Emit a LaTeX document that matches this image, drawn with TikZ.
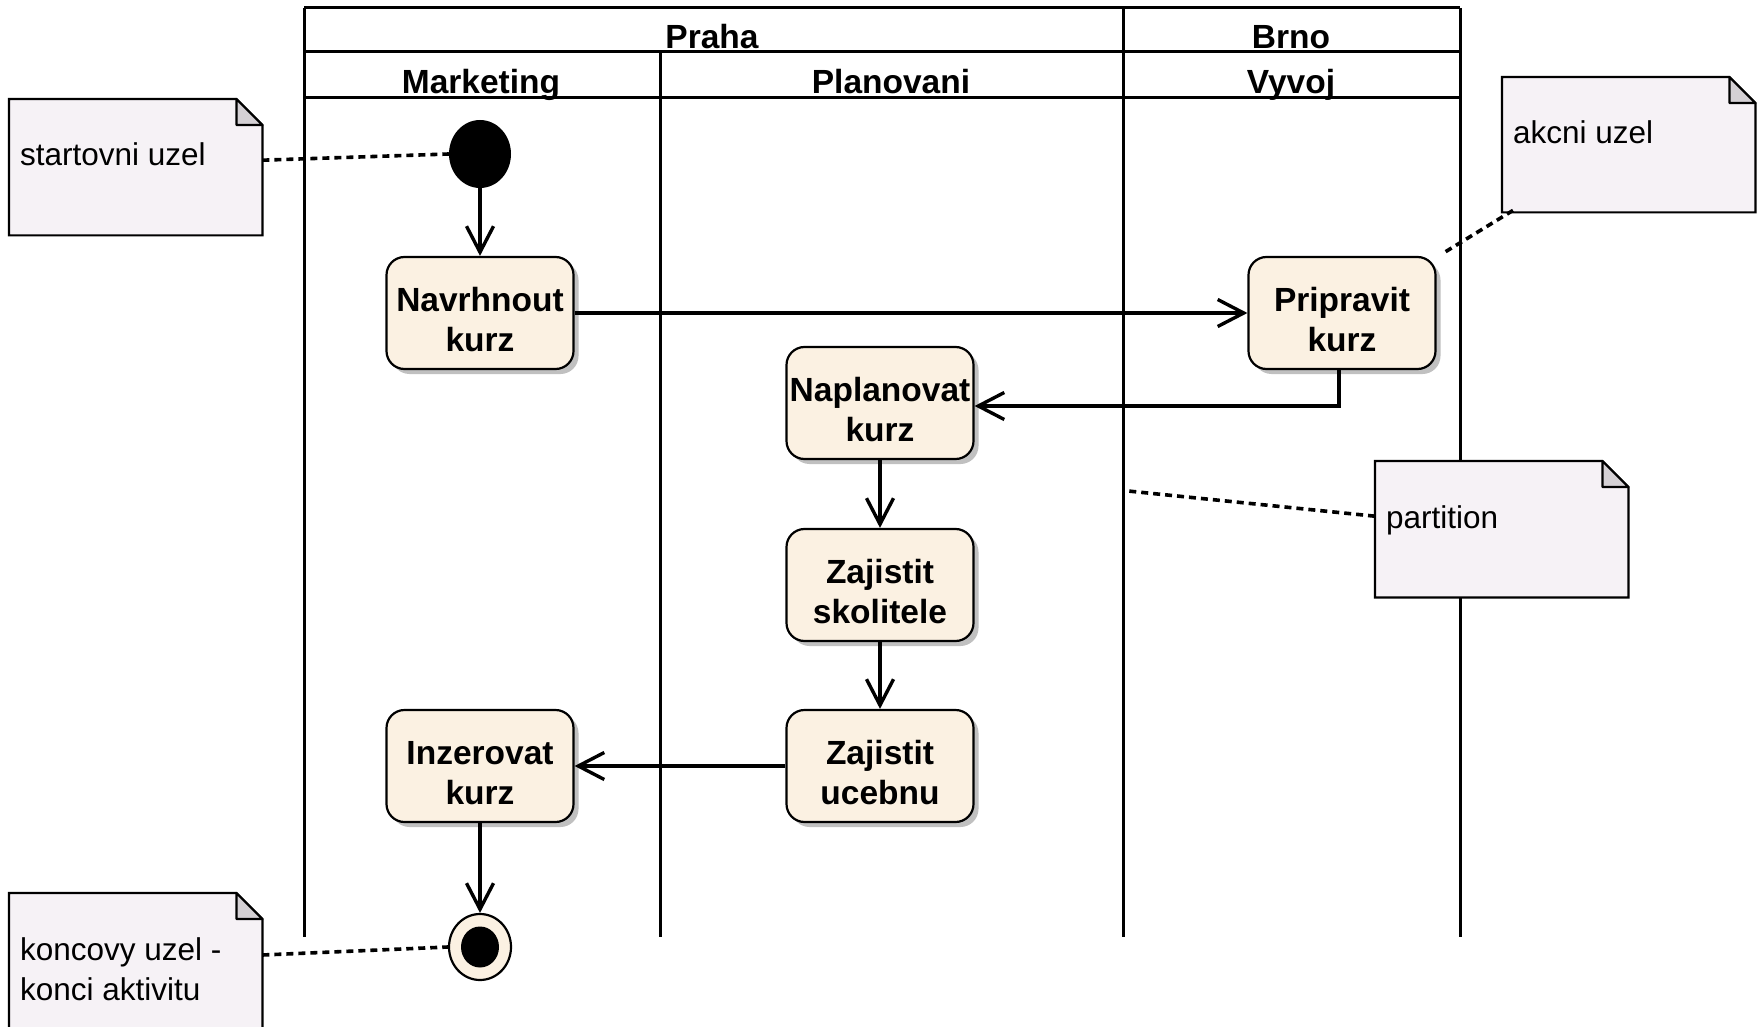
\documentclass[tikz,border=0pt]{standalone}
\usepackage{fontspec}
\setmainfont{Liberation Sans}
\usetikzlibrary{arrows.meta,shadows,shapes.geometric}
\definecolor{actfill}{RGB}{251,241,226}
\definecolor{notefill}{RGB}{246,242,246}
\definecolor{foldfill}{RGB}{212,208,212}
\definecolor{shadowgray}{RGB}{192,192,192}
\tikzset{
  action/.style={draw=black, line width=2.2pt, fill=actfill, rounded corners=18pt,
    minimum width=187pt, minimum height=112pt, inner sep=0pt,
    font=\fontsize{33.5}{40}\selectfont\bfseries,
    drop shadow={shadow xshift=5pt, shadow yshift=-5pt, fill=shadowgray, opacity=1}},
  lane/.style={draw=black, line width=3pt},
  header/.style={anchor=base, inner sep=0pt, font=\fontsize{33.5}{40}\selectfont\bfseries},
  flow/.style={draw=black, line width=3.4pt, -{Straight Barb[length=26pt, width=27pt]}},
  anchorline/.style={draw=black, line width=3.6pt, dash pattern=on 7pt off 5pt},
  notebox/.style={anchor=north west, inner sep=0pt, minimum width=253pt},
  notetext/.style={anchor=base west, inner sep=0pt, font=\fontsize{31.5}{40}\selectfont},
  notestyle/.style={fill=notefill, draw=black, line width=2.2pt},
  foldstyle/.style={fill=foldfill, draw=black, line width=2.2pt, line join=round},
}
\newcommand\drawnotebox[1]{%
  \filldraw[notestyle] (#1.north west) -- ([xshift=-26pt]#1.north east)
    -- ([yshift=-26pt]#1.north east) -- (#1.south east) -- (#1.south west) -- cycle;
  \filldraw[foldstyle] ([xshift=-26pt]#1.north east) -- ([xshift=-26pt,yshift=-26pt]#1.north east)
    -- ([yshift=-26pt]#1.north east) -- cycle;
}
\newcommand\acttext[2]{\raisebox{-10pt}[\height][\depth]{\begin{tabular}{@{}c@{}}#1\\#2\end{tabular}}}
\begin{document}
\begin{tikzpicture}[x=1pt, y=-1pt]
\useasboundingbox[fill=white] (0,0) rectangle (1764,1027);

% partitions
\draw[lane] (304,8) -- (1460,8);
\draw[lane] (304,52) -- (1460,52);
\draw[lane] (304,98) -- (1460,98);
\draw[lane] (304,8) -- (304,937);
\draw[lane] (1123,8) -- (1123,937);
\draw[lane] (1460,8) -- (1460,937);
\draw[lane] (660,52) -- (660,937);

\node[header] (hpraha) at (712,49) {Praha};
\node[header] (hbrno) at (1291,49) {Brno};
\node[header] (hmark) at (481,94) {Marketing};
\node[header] (hplan) at (891,94) {Planovani};
\node[header] (hvyvoj) at (1291,94) {Vyvoj};

% nodes
\node[ellipse, fill=black, minimum width=62pt, minimum height=68pt, inner sep=0pt] (start) at (480,154) {};
\node[action] (navrh) at (480,313) {\acttext{Navrhnout}{kurz}};
\node[action] (prip) at (1342,313) {\acttext{Pripravit}{kurz}};
\node[action] (napl) at (880,403) {\acttext{Naplanovat}{kurz}};
\node[action] (skol) at (880,585) {\acttext{Zajistit}{skolitele}};
\node[action] (uceb) at (880,766) {\acttext{Zajistit}{ucebnu}};
\node[action] (inz) at (480,766) {\acttext{Inzerovat}{kurz}};
\node[ellipse, draw=black, line width=2.2pt, fill=actfill, minimum width=62pt, minimum height=66pt, inner sep=0pt] (endn) at (480,947) {};
\node[ellipse, fill=black, minimum width=38pt, minimum height=41pt, inner sep=0pt] (endin) at (480,947) {};

% flows
\draw[flow] (start) -- (navrh);
\draw[flow] (navrh) -- (prip);
\draw[flow] ([xshift=-3pt]prip.south) |- ([yshift=-3pt]napl.east);
\draw[flow] (napl) -- (skol);
\draw[flow] (skol) -- (uceb);
\draw[flow] (uceb) -- (inz);
\draw[flow] (inz) -- (endn);

% notes
\node[notebox, minimum height=136pt] (nstart) at (9,99) {};
\drawnotebox{nstart}
\node[notetext] (tstart) at (20,166) {startovni uzel};

\node[notebox, minimum height=135pt] (nakcni) at (1502,77) {};
\drawnotebox{nakcni}
\node[notetext] (takcni) at (1513,144) {akcni uzel};

\node[notebox, minimum height=136pt] (npart) at (1375,461) {};
\drawnotebox{npart}
\node[notetext] (tpart) at (1386,528) {partition};

\node[notebox, minimum height=150pt] (nkonc) at (9,893) {};
\drawnotebox{nkonc}
\node[notetext] (tkonc) at (20,960) {\vtop{\hbox{koncovy uzel -}\hbox{konci aktivitu}}};

% note anchors
\coordinate (akend) at ([shift={(7pt,3pt)}]prip.north east);
\coordinate (partend) at (1128,491);
\draw[anchorline] ([yshift=7pt]nstart.east) -- (start.west);
\draw[anchorline] ([xshift=11pt,yshift=2pt]nakcni.south west) -- (akend);
\draw[anchorline] ([yshift=13pt]npart.west) -- (partend);
\draw[anchorline] (nkonc.east |- 0,955) -- (endn.west);
\end{tikzpicture}
\end{document}
